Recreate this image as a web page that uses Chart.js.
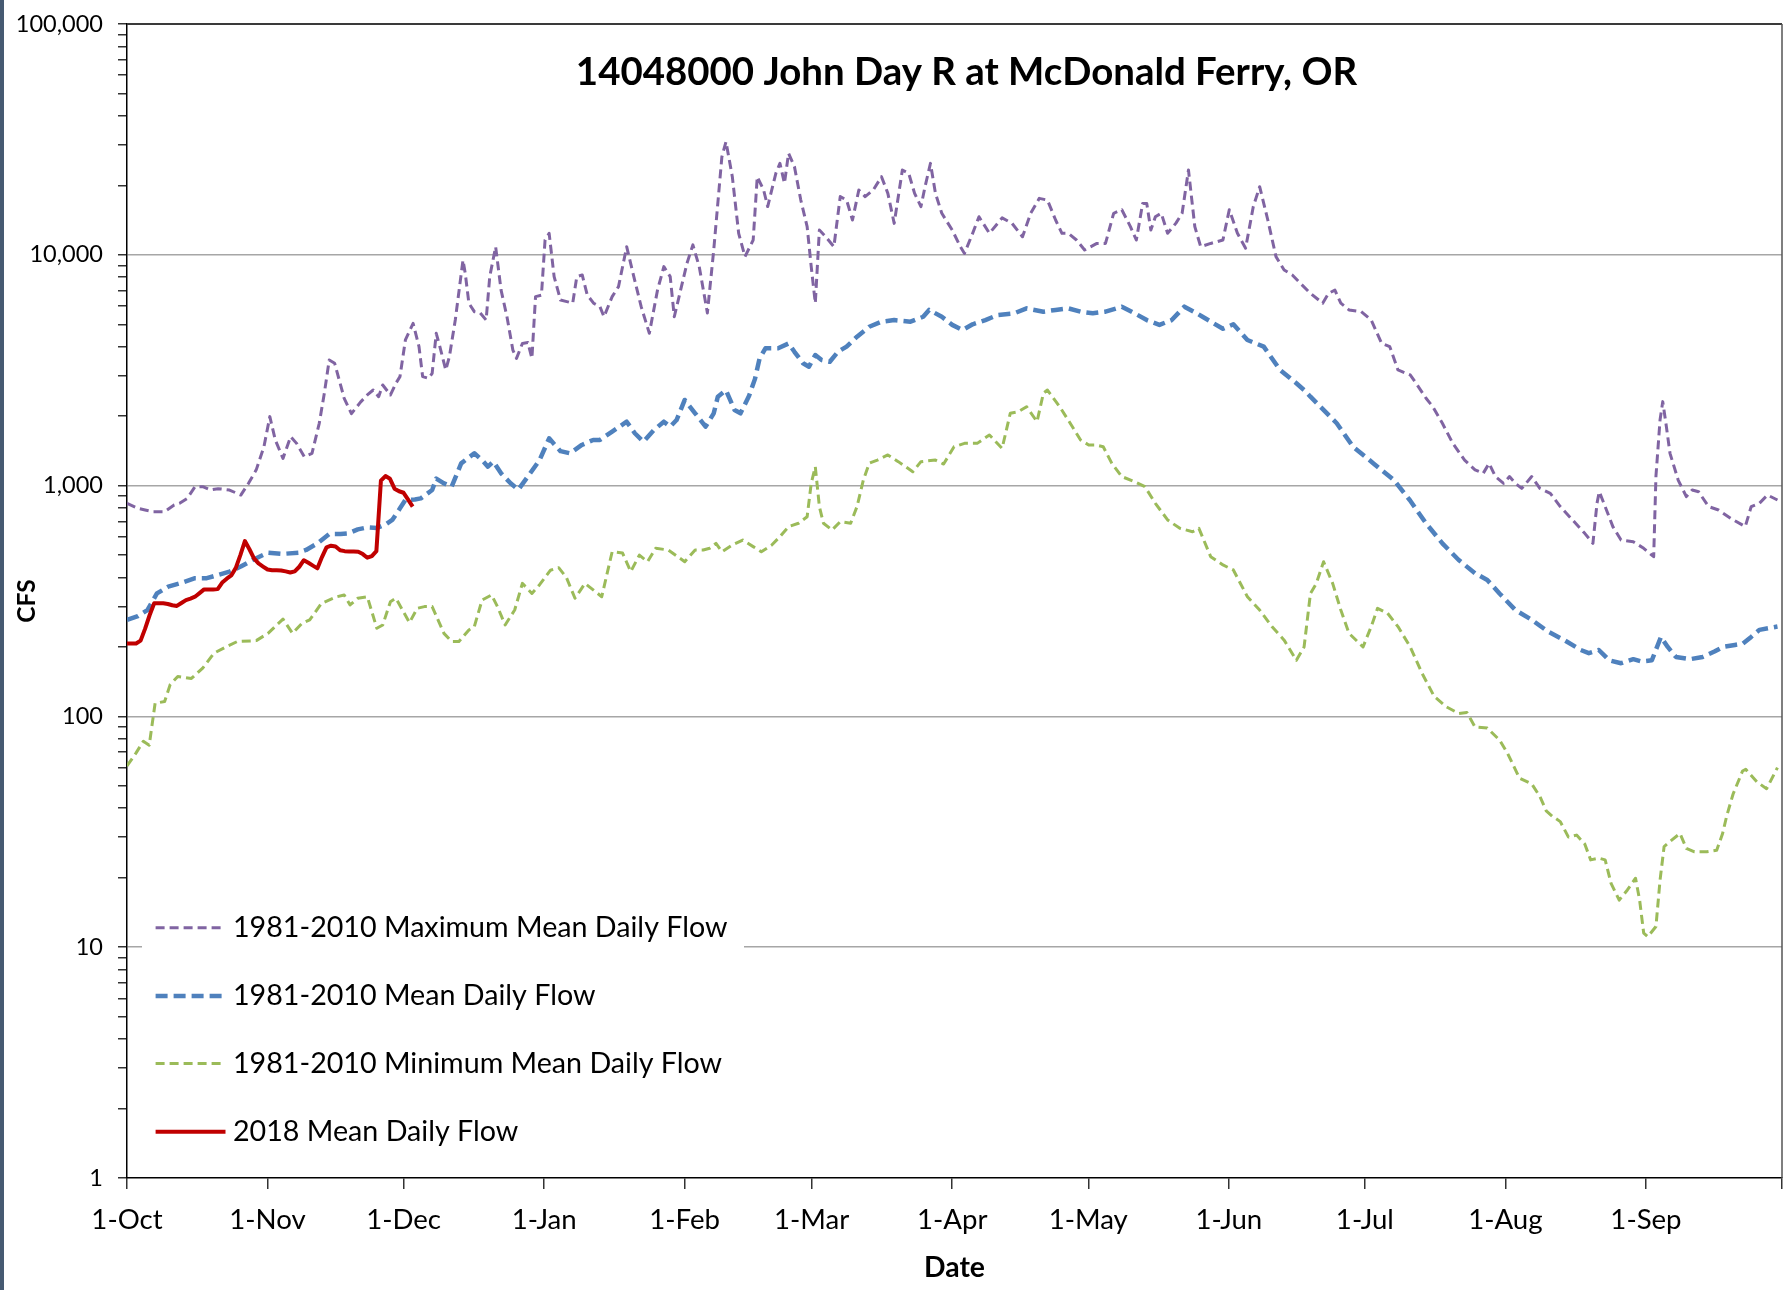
<!DOCTYPE html>
<html><head><meta charset="utf-8">
<script src="https://cdn.jsdelivr.net/npm/chart.js@4.4.0/dist/chart.umd.min.js"></script>
<style>
html,body{margin:0;padding:0;background:#fff;}
#wrap{position:relative;width:1787px;height:1290px;overflow:hidden;background:#fff;}
#edge{position:absolute;left:0;top:0;width:4px;height:1290px;background:#465a72;}
canvas{display:block;}
</style></head><body>
<div id="wrap"><canvas id="c" width="1787" height="1290"></canvas><div id="edge"></div></div>
<script>
// ---------------- DATA (day of water year from 1-Oct, CFS) ----------------
const monthStartDays = [0,31,61,92,123,151,182,212,243,273,304,335,365];
const monthLabels = ['1-Oct','1-Nov','1-Dec','1-Jan','1-Feb','1-Mar','1-Apr','1-May','1-Jun','1-Jul','1-Aug','1-Sep',''];
const yDecades = [1,10,100,1000,10000,100000];
const yDecadeLabels = ['1','10','100','1,000','10,000','100,000'];

const seriesNames = ['1981-2010 Maximum Mean Daily Flow','1981-2010 Mean Daily Flow','1981-2010 Minimum Mean Daily Flow','2018 Mean Daily Flow'];

const maxFlow = [[0,838],[2.4,797],[4,784],[5.7,771],[8.3,771],[10.4,824],[11.6,838],[13.3,881],[15,989],[16.7,989],[18.4,957],[20.1,970],[22.6,957],[25.1,910],[26.8,1023],[28.5,1170],[30.2,1474],[31.5,1990],[32.7,1577],[34.4,1312],[36.1,1630],[37.4,1524],[39.1,1334],[40.8,1380],[42.4,1862],[43.5,2500],[44.6,3500],[45.8,3388],[47.9,2390],[49.5,2050],[51.5,2300],[53,2470],[54.3,2595],[55.5,2428],[56.4,2728],[58.1,2470],[59.3,2775],[60.2,2965],[61.4,4275],[63.1,5050],[64.4,4000],[65.2,2965],[66.5,2916],[67.3,3062],[68.2,4570],[69,4000],[70.3,3170],[71.1,3620],[72.4,5215],[74.1,9490],[74.6,8310],[75.4,6170],[76.6,5670],[77.9,5600],[79.2,5215],[80,8040],[81.3,10840],[82.5,7030],[83.8,5390],[85.1,3865],[85.9,3557],[87.2,4130],[88.4,4170],[89.3,3557],[90.1,6590],[91.4,6680],[92.2,11590],[93.1,12390],[94.2,8040],[95.6,6370],[97,6270],[98.3,6170],[99.2,8040],[100.4,8180],[101.5,6700],[102.9,6170],[104.3,5960],[105.2,5390],[107,6590],[108.4,7280],[110.2,10840],[111.6,8310],[113.4,5960],[115.2,4570],[117,7030],[118.4,8890],[119.8,8040],[120.7,5390],[123.5,9190],[124.8,11040],[126.2,8890],[128,5600],[129.4,10490],[131.2,26600],[132.1,30900],[133.5,21800],[134.9,12390],[136.3,9820],[138.1,11590],[139,21800],[140.4,19100],[141.3,16180],[143.1,22550],[144,24900],[145,20400],[145.9,27540],[147.2,24100],[148.6,17260],[150,13240],[150.9,8890],[151.8,6170],[152.7,12800],[154.1,11970],[155.9,10840],[157.3,17870],[158.7,17260],[160,14150],[161.4,19100],[162.8,17870],[164.6,19100],[166.4,21800],[167.8,18460],[169.2,13680],[171,23300],[172.4,22550],[173.7,18460],[175.1,16180],[176,19730],[177.2,24900],[178.3,18460],[179.7,15130],[182,12800],[183.8,10840],[184.7,10140],[186.5,12390],[187.9,14620],[190.2,12390],[193,14450],[195.2,13680],[197.5,11970],[199.3,15130],[201.2,17560],[203,17260],[204.8,14150],[206.2,12390],[207.6,12390],[209.4,11590],[211.2,10490],[213.9,11200],[215.8,11200],[217.6,15130],[219.4,15680],[221.3,13240],[222.6,11590],[224,16700],[224.9,16700],[225.8,12800],[226.8,14620],[228.1,15130],[229.5,12390],[231.3,13680],[232.7,15130],[234.1,23300],[235.5,13240],[236.8,10840],[239,11200],[241.7,11590],[243.1,15680],[244.9,12390],[246.7,10680],[248.4,16180],[249.8,19730],[251.6,14150],[253.4,9820],[255.2,8590],[257,8180],[258.8,7520],[261,6810],[263.7,6170],[265,6810],[266.4,7030],[267.7,6170],[269.5,5770],[272.2,5670],[274.4,5215],[276.7,4130],[278.5,4000],[280.3,3170],[283,3015],[284.3,2775],[286.5,2390],[288,2197],[290.1,1862],[292.4,1524],[295,1290],[297.3,1170],[299.1,1130],[300.4,1248],[301.8,1094],[303.6,1023],[304.9,1094],[306.2,1023],[307.6,973],[309.8,1094],[311.6,973],[313.9,925],[316.1,811],[318.8,710],[321.5,621],[323.3,562],[324.2,838],[324.7,941],[326,811],[327.7,664],[329.5,581],[332.2,571],[334.5,535],[336.7,492],[337.2,1098],[338.1,1923],[338.7,2311],[339.4,1862],[340.3,1380],[342.1,1057],[343.9,896],[345.2,957],[346.6,941],[348.8,811],[351,784],[353.7,721],[356.9,664],[358.2,811],[360,838],[361.8,910],[364,866]];

const meanFlow = [[0,262],[2.4,272],[4.5,289],[6.6,341],[9.1,365],[11.6,377],[15,397],[17.6,397],[20.1,410],[22.6,424],[25.1,446],[27.7,476],[31.1,512],[34.4,506],[37.8,512],[39.5,526],[42,562],[44.6,617],[47.1,617],[48.8,621],[50.9,646],[53,659],[55.1,655],[57.2,682],[58.5,710],[60.2,797],[61.4,866],[63.5,870],[64.8,880],[67.3,957],[68.2,1073],[69.9,1023],[71.6,989],[73.7,1248],[76.6,1380],[78.3,1290],[79.6,1208],[80.8,1270],[82.5,1130],[84.6,1023],[86.3,960],[88.4,1094],[91,1290],[93.1,1602],[95.6,1410],[97.7,1380],[100.3,1500],[102.8,1577],[104.3,1577],[107,1713],[110.2,1892],[112,1686],[113.9,1550],[116.2,1740],[118.4,1892],[119.8,1800],[121.2,1923],[123,2350],[125.3,2057],[127.6,1800],[129.4,2057],[130.3,2428],[132.1,2590],[134,2125],[135.3,2057],[137.2,2450],[138.5,2900],[139.5,3550],[140.8,3935],[143.6,3935],[145.9,4130],[147.2,3800],[149.1,3388],[150.4,3275],[151.8,3680],[153.2,3500],[155,3440],[156.8,3800],[158.7,4000],[161,4420],[163.7,4880],[166.4,5130],[169.2,5215],[172.8,5130],[175.6,5390],[176.9,5770],[179.7,5390],[182,4970],[184.3,4720],[186.5,5000],[189.3,5215],[192,5480],[195.7,5580],[198.4,5860],[202.1,5670],[204.8,5770],[207.6,5860],[210.3,5670],[213,5580],[215.8,5670],[219.4,5960],[222.2,5580],[224.9,5215],[227.7,4970],[230.4,5215],[233.2,5960],[235.9,5580],[237.2,5390],[241.7,4780],[244,5000],[247.1,4275],[250.7,4000],[254.3,3170],[257.9,2775],[259.6,2595],[261,2428],[263.2,2197],[266.8,1862],[270.4,1474],[274.9,1248],[279.4,1057],[282.9,866],[286.5,686],[290.1,562],[293.7,476],[297.3,417],[300,390],[302.7,341],[306.2,289],[309.8,262],[313.4,233],[317,214],[320.6,194],[322.4,188],[324.6,194],[326.9,175],[329.5,170],[332.2,177],[334,173],[336.3,175],[338.3,221],[339.8,200],[341.6,181],[344.8,177],[347.5,181],[350.1,191],[352,200],[354.6,204],[356.4,207],[358.2,221],[360,237],[364,245]];

const minFlow = [[0,61],[1.9,69],[3.6,78],[4.9,75],[6.2,114],[8.3,116],[9.5,137],[11.2,149],[14.2,146],[16.7,162],[19.2,188],[21.8,200],[24.3,211],[28.5,213],[31.1,229],[34.4,264],[36.5,229],[38.6,253],[40.3,262],[42.9,309],[46.3,330],[47.9,336],[49.2,304],[50.9,325],[53,330],[55.1,241],[56.4,249],[58.1,314],[59.3,325],[62.3,255],[64,294],[65.6,299],[67.3,299],[69.9,229],[71.6,211],[73.2,211],[75.4,237],[76.6,245],[78.3,319],[80.4,336],[81.7,299],[83.4,249],[85.5,289],[87.2,377],[89.3,341],[91,372],[93.4,430],[95.2,441],[96.9,400],[98.8,325],[101,377],[103.8,341],[104.7,330],[107,517],[109.3,510],[111.1,424],[113,500],[114.8,468],[116.6,535],[119.4,526],[123,468],[125.3,526],[127.1,526],[128.5,535],[129.9,562],[131.2,517],[133.5,553],[135.8,581],[138.1,544],[139.9,517],[142.2,553],[144,601],[145.9,664],[148.1,687],[150,733],[150.9,1023],[151.8,1208],[152.7,811],[153.6,687],[155.5,642],[157.3,698],[159.6,687],[161,811],[162.4,1057],[163.7,1250],[165.5,1290],[167.8,1358],[170.1,1270],[173.3,1148],[175.1,1270],[178.3,1290],[180.1,1240],[182.4,1474],[184.7,1524],[187.5,1524],[190.2,1657],[193,1450],[194.8,2057],[196.6,2090],[198.4,2197],[200.7,1892],[202.1,2512],[203,2595],[205.7,2197],[208.5,1800],[210.3,1577],[212.1,1500],[213.5,1500],[215.3,1474],[217.2,1248],[219.4,1094],[222.2,1040],[224.5,989],[226.8,838],[229.5,710],[232.2,653],[235,631],[236.4,653],[239,492],[241.7,453],[244,431],[247.1,330],[249.8,289],[252.5,245],[255.2,214],[257.9,175],[259.6,200],[261,341],[262.3,377],[263.9,468],[265.9,377],[267.7,289],[269.5,229],[272.6,200],[274.4,245],[275.8,294],[278,280],[280.3,245],[283,200],[285.6,154],[288.3,122],[291,110],[293.7,103],[295.5,104],[297.3,90],[300,89],[302.7,79],[304.5,69],[307.1,54],[309.8,51],[311.6,45],[313,39],[314.3,37],[316.1,35],[317.9,30],[319.7,30.6],[321.5,28],[322.8,23.9],[324.6,24.3],[326,23.9],[327.3,18.9],[329.1,16],[330.9,17.7],[332.7,19.9],[333.6,16],[334.5,11.5],[335.4,11.1],[337.2,12.3],[338.1,19.5],[339,27.3],[340.3,28.7],[342.5,31.1],[343.9,26.8],[345.7,25.9],[348.4,25.9],[350.6,26.3],[351.9,31.1],[352.8,37],[354.2,46],[356.3,58],[357,59],[359.5,52],[361.6,48.6],[364,60]];

// 2018 mean daily flow, one value per day starting 1-Oct
const flow2018 = [207,207,207,213,240,275,309,309,309,307,303,301,310,319,324,330,342,355,355,355,356,380,395,408,440,500,575,530,484,460,446,433,430,430,429,425,420,425,445,475,463,450,438,490,540,549,545,525,520,518,518,517,505,487,495,520,1050,1100,1070,970,945,931,870,811];

// ---------------- STYLE / LAYOUT ----------------
const FAMILY = 'Lato';
const CAP = 0.358;
const mc = document.createElement('canvas').getContext('2d');
function fit(text, weight, width){ mc.font = weight + ' 100px ' + FAMILY; return 100*width/mc.measureText(text).width; }
const yTickSize = (fit('100,000','normal',87.5) + fit('1,000','normal',59.7))/2;
const xTickSize = (fit('1-Oct','normal',69) + fit('1-Mar','normal',77.2) + fit('1-May','normal',81.3) + fit('1-Sep','normal',69.9))/4;
const legendSize = (fit(seriesNames[0],'normal',499) + fit(seriesNames[3],'normal',285) + fit(seriesNames[1],'normal',360))/3;
const TITLE = '14048000 John Day R at McDonald Ferry, OR';
const titleSize = fit(TITLE,'bold',781.5);
const dateSize = fit('Date','bold',61);
const cfsSize = fit('CFS','bold',43.3);

const styles = [
  {color:'#8064A2', width:3, dash:[9,5]},
  {color:'#4F81BD', width:4.5, dash:[12,6]},
  {color:'#9BBB59', width:3, dash:[9,5]},
  {color:'#C00000', width:4, dash:[]}
];
const drawOrder = [1,2,3,0];

function toPts(arr){ return arr.map(p => ({x:p[0], y:p[1]})); }
const seriesData = [toPts(maxFlow), toPts(meanFlow), toPts(minFlow), flow2018.map((v,i)=>({x:i, y:v}))];

function isDecade(v){ const l = Math.log10(v); return Math.abs(l - Math.round(l)) < 1e-9; }

const yTicks = [];
for (let k = 0; k < 5; k++) for (let m = 1; m <= 9; m++) yTicks.push(m*Math.pow(10,k));
yTicks.push(100000);

const decor = {
  id:'decor',
  afterDraw(chart){
    const {ctx, chartArea:a} = chart;
    ctx.save();
    ctx.setLineDash([]);
    ctx.strokeStyle = '#3a3a3a'; ctx.lineWidth = 2;
    ctx.beginPath(); ctx.moveTo(a.left, a.top); ctx.lineTo(a.right, a.top); ctx.stroke();
    ctx.strokeStyle = '#555'; ctx.lineWidth = 1.5;
    ctx.beginPath(); ctx.moveTo(a.right, a.top); ctx.lineTo(a.right, a.bottom); ctx.stroke();
    // title
    ctx.fillStyle = '#000';
    ctx.font = 'bold ' + titleSize + 'px ' + FAMILY;
    ctx.textAlign = 'center'; ctx.textBaseline = 'alphabetic';
    ctx.fillText(TITLE, 966.5, 71.7 + CAP*titleSize);
    // legend
    ctx.fillStyle = '#fff';
    ctx.fillRect(142, 893, 602, 272);
    const ys = [927.7, 996, 1063.5, 1131.7];
    ctx.font = legendSize + 'px ' + FAMILY;
    ctx.textAlign = 'left';
    seriesNames.forEach((name, i) => {
      const s = styles[i];
      ctx.strokeStyle = s.color; ctx.lineWidth = s.width; ctx.setLineDash(s.dash);
      ctx.beginPath(); ctx.moveTo(155.6, ys[i]); ctx.lineTo(225.5, ys[i]); ctx.stroke();
      ctx.setLineDash([]);
      ctx.fillStyle = '#000';
      ctx.fillText(name, 233, ys[i] - 1 + CAP*legendSize);
    });
    ctx.restore();
  }
};

Chart.defaults.font.family = FAMILY;
Chart.defaults.color = '#000';

new Chart(document.getElementById('c'), {
  type:'line',
  data:{
    datasets: seriesNames.map((name,i)=>({
      label:name, data:seriesData[i],
      borderColor:styles[i].color, backgroundColor:styles[i].color,
      borderWidth:styles[i].width, borderDash:styles[i].dash,
      pointRadius:0, tension:0, fill:false, order:drawOrder[i],
      borderJoinStyle:'round'
    }))
  },
  options:{
    responsive:false, animation:false, devicePixelRatio:1,
    layout:{padding:{left:0, right:5, top:24, bottom:0}},
    plugins:{legend:{display:false}, title:{display:false}, tooltip:{enabled:false}},
    scales:{
      x:{
        type:'linear', min:0, max:365,
        afterBuildTicks: s => { s.ticks = monthStartDays.map(v=>({value:v})); },
        afterFit: s => { s.height = 112; s.paddingLeft = 0; s.paddingRight = 0; },
        ticks:{
          autoSkip:false, maxRotation:0, minRotation:0,
          font:{size:xTickSize, family:FAMILY}, color:'#000',
          padding: 1220 - 1178 - 11 - 0.6*xTickSize,
          callback: v => monthLabels[monthStartDays.indexOf(v)]
        },
        grid:{drawOnChartArea:false, drawTicks:true, tickLength:11, tickColor:'#333', lineWidth:1.5},
        border:{color:'#000', width:1.5},
        title:{display:true, text:'Date', color:'#000', font:{size:dateSize, weight:'bold', family:FAMILY},
               padding:{top:0, bottom:1290 - 1267.5 - 0.6*dateSize}}
      },
      y:{
        type:'logarithmic', min:1, max:100000,
        afterBuildTicks: s => { s.ticks = yTicks.map(v=>({value:v})); },
        afterFit: s => { s.width = 127; s.paddingTop = 0; s.paddingBottom = 0; },
        ticks:{
          autoSkip:false, font:{size:yTickSize, family:FAMILY}, color:'#000', padding:15,
          callback: v => { const k = yDecades.indexOf(v); return k >= 0 ? yDecadeLabels[k] : ''; }
        },
        grid:{
          color: c => (c.tick && isDecade(c.tick.value) && c.tick.value > 1 && c.tick.value < 100000) ? '#a6a6a6' : 'rgba(0,0,0,0)',
          tickColor:'#333', tickLength:9, lineWidth:1.5
        },
        border:{color:'#000', width:1.5},
        title:{display:true, text:'CFS', color:'#000', font:{size:cfsSize, weight:'bold', family:FAMILY},
               padding:{top:27 - 0.6*cfsSize, bottom:0}}
      }
    }
  },
  plugins:[decor]
});
</script></body></html>
